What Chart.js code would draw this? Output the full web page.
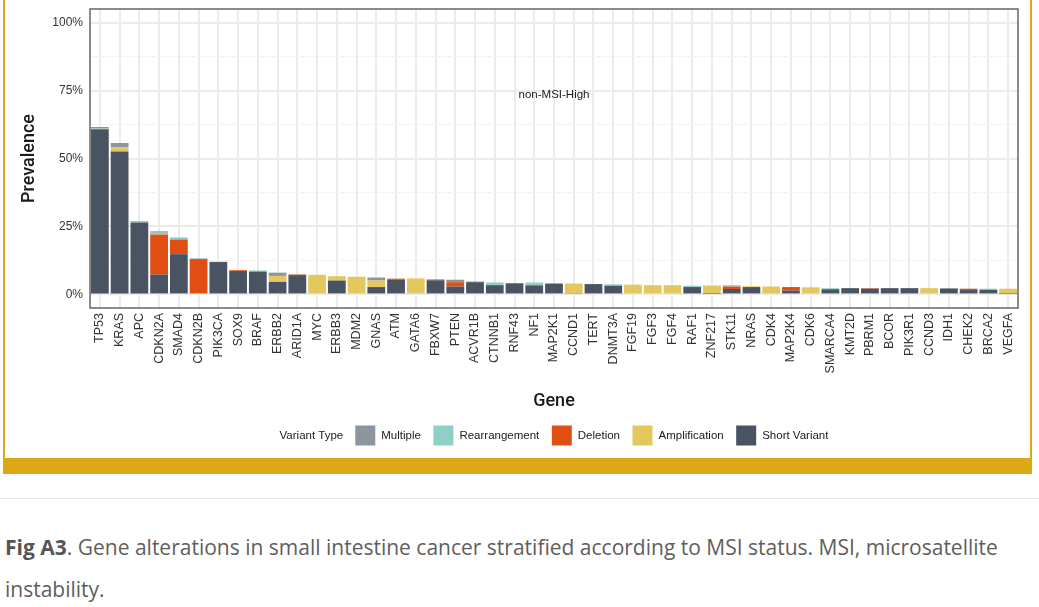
<!DOCTYPE html>
<html>
<head>
<meta charset="utf-8">
<script src="https://cdn.jsdelivr.net/npm/chart.js@4.4.1/dist/chart.umd.min.js"></script>
<style>
  html, body { margin: 0; padding: 0; background: #fff; }
  body { width: 1039px; height: 607px; position: relative; overflow: hidden; }
  #frame { position: absolute; left: 3px; top: -6px; width: 1029px; height: 480px; box-sizing: border-box;
           border: 2px solid #dca816; border-bottom-width: 16px; }
  #wrap { position: absolute; left: 0; top: 0; width: 1039px; height: 457px; }
  #rule { position: absolute; left: 0; top: 498px; width: 1039px; height: 1px; background: #e6e6e6; }
  #caption { position: absolute; left: 5px; top: 526px; font-family: 'Open Sans', sans-serif; font-size: 21px;
             line-height: 42px; color: #5e5e5e; white-space: nowrap; }
  #caption b { color: #555; }
</style>
</head>
<body>
<div id="frame"></div>
<div id="wrap"><canvas id="chart"></canvas></div>
<div id="rule"></div>
<div id="caption"><b>Fig A3</b>. Gene alterations in small intestine cancer stratified according to MSI status. MSI, microsatellite<br>instability.</div>

<script>
var genes = ['TP53', 'KRAS', 'APC', 'CDKN2A', 'SMAD4', 'CDKN2B', 'PIK3CA', 'SOX9', 'BRAF', 'ERBB2',
    'ARID1A', 'MYC', 'ERBB3', 'MDM2', 'GNAS', 'ATM', 'GATA6', 'FBXW7', 'PTEN', 'ACVR1B',
    'CTNNB1', 'RNF43', 'NF1', 'MAP2K1', 'CCND1', 'TERT', 'DNMT3A', 'FGF19', 'FGF3', 'FGF4',
    'RAF1', 'ZNF217', 'STK11', 'NRAS', 'CDK4', 'MAP2K4', 'CDK6', 'SMARCA4', 'KMT2D', 'PBRM1',
    'BCOR', 'PIK3R1', 'CCND3', 'IDH1', 'CHEK2', 'BRCA2', 'VEGFA'];

// prevalence in %, stacked bottom to top
var shortVariant = [60.5, 52.6, 26.5, 7.3, 14.8, 0, 11.9, 8.6, 8.4, 4.6,
    7.1, 0, 5.1, 0, 2.7, 5.5, 0, 5.2, 2.9, 4.5,
    3.4, 3.9, 3.3, 4.0, 0.3, 3.8, 3.2, 0, 0, 0,
    2.7, 0.2, 2.0, 2.7, 0, 1.4, 0, 1.9, 2.3, 2.1,
    2.3, 2.3, 0, 2.2, 1.6, 1.7, 0.2];
var amplification = [0, 1.6, 0, 0, 0, 0, 0.2, 0, 0, 2.2,
    0, 7.2, 1.6, 6.5, 2.4, 0, 5.9, 0, 0, 0,
    0, 0, 0, 0, 3.7, 0, 0, 3.6, 3.4, 3.4,
    0, 3.1, 0, 0.3, 2.9, 0, 2.6, 0, 0, 0,
    0, 0, 2.3, 0, 0, 0, 1.9];
var deletion = [0.4, 0, 0, 14.7, 5.4, 13.0, 0, 0.3, 0, 0,
    0.2, 0, 0, 0, 0, 0.3, 0, 0.3, 1.6, 0.2,
    0, 0.3, 0.2, 0, 0, 0, 0, 0, 0, 0,
    0, 0, 0.9, 0, 0, 1.3, 0, 0, 0, 0.2,
    0, 0, 0, 0, 0.5, 0, 0];
var rearrangement = [0.2, 0, 0.5, 0.7, 0.8, 0, 0, 0, 0.4, 0,
    0.2, 0, 0, 0, 0, 0, 0, 0, 0, 0,
    1.0, 0, 0.9, 0, 0, 0, 0.5, 0, 0, 0,
    0.5, 0, 0.5, 0, 0, 0, 0, 0.4, 0, 0,
    0, 0, 0, 0, 0, 0.4, 0];
var multiple = [0.5, 1.5, 0, 0.5, 0, 0.2, 0, 0, 0, 1.2,
    0, 0, 0, 0, 1.1, 0, 0, 0, 0.9, 0,
    0, 0, 0, 0, 0, 0, 0, 0, 0, 0,
    0, 0, 0, 0, 0, 0, 0, 0, 0, 0,
    0, 0, 0, 0, 0, 0, 0];

var yTicks = [0, 12.5, 25, 37.5, 50, 62.5, 75, 87.5, 100];

Chart.defaults.font.family = "'Liberation Sans', Arial, sans-serif";
Chart.defaults.color = '#333';

var panelPlugin = {
    id: 'panel',
    afterDatasetsDraw: function(chart) {
        var ctx = chart.ctx, area = chart.chartArea;
        ctx.save();
        ctx.fillStyle = '#1a1a1a';
        ctx.font = "11.5px 'Liberation Sans', Arial, sans-serif";
        ctx.textAlign = 'center';
        ctx.textBaseline = 'middle';
        ctx.fillText('non-MSI-High', (area.left + area.right) / 2, chart.scales.y.getPixelForValue(73.5));
        ctx.restore();
    },
    afterDraw: function(chart) {
        var ctx = chart.ctx, area = chart.chartArea;
        ctx.save();
        ctx.strokeStyle = '#4d4d4d';
        ctx.lineWidth = 1.3;
        ctx.strokeRect(area.left, area.top, area.right - area.left, area.bottom - area.top);

        // legend: title inline, then the keys in reverse stack order
        ctx.font = "11.5px 'Liberation Sans', Arial, sans-serif";
        ctx.textBaseline = 'middle';
        ctx.textAlign = 'left';
        var items = chart.data.datasets.slice().reverse();
        var title = 'Variant Type';
        var box = 20, total = ctx.measureText(title).width + 12;
        items.forEach(function(d, i) {
            total += box + 6 + ctx.measureText(d.label).width + (i < items.length - 1 ? 12.5 : 0);
        });
        var x = (area.left + area.right) / 2 - total / 2, yMid = 435.5;
        ctx.fillStyle = '#1a1a1a';
        ctx.fillText(title, x, yMid);
        x += ctx.measureText(title).width + 12;
        items.forEach(function(d) {
            ctx.fillStyle = d.backgroundColor;
            ctx.fillRect(x, yMid - box / 2, box, box);
            x += box + 6;
            ctx.fillStyle = '#1a1a1a';
            ctx.fillText(d.label, x, yMid);
            x += ctx.measureText(d.label).width + 12.5;
        });
        ctx.restore();
    }
};

new Chart(document.getElementById('chart'), {
    type: 'bar',
    data: {
        labels: genes,
        datasets: [
            { label: 'Short Variant', data: shortVariant, backgroundColor: '#4a5362' },
            { label: 'Amplification', data: amplification, backgroundColor: '#e2c85f' },
            { label: 'Deletion', data: deletion, backgroundColor: '#e04e14' },
            { label: 'Rearrangement', data: rearrangement, backgroundColor: '#8fcfc9' },
            { label: 'Multiple', data: multiple, backgroundColor: '#8d95a0' }
        ]
    },
    options: {
        responsive: true,
        maintainAspectRatio: false,
        animation: false,
        layout: { padding: { top: 9, right: 21, left: 0, bottom: 0 } },
        datasets: { bar: { barPercentage: 0.9, categoryPercentage: 1 } },
        plugins: { legend: { display: false }, tooltip: { enabled: false } },
        scales: {
            x: {
                stacked: true,
                offset: true,
                grid: { offset: false, color: '#ebebeb', lineWidth: 2, drawTicks: false },
                border: { display: false },
                ticks: { autoSkip: false, minRotation: 90, maxRotation: 90, padding: 5, color: '#333', font: { size: 12.5 } },
                title: { display: true, text: 'Gene', color: '#1a1a1a', padding: { top: 0, bottom: 45 },
                         font: { family: 'Roboto', size: 18, weight: 500 } },
                afterFit: function(s) {
                    s.height = 149;
                    s.paddingLeft = 0; s.paddingRight = 0;
                }
            },
            y: {
                stacked: true,
                min: -5,
                max: 105,
                afterBuildTicks: function(s) { s.ticks = yTicks.map(function(v) { return { value: v }; }); },
                grid: {
                    drawTicks: false,
                    color: function(c) { return c.tick && c.tick.value % 25 === 0 ? '#ebebeb' : '#f4f4f4'; },
                    lineWidth: function(c) { return c.tick && c.tick.value % 25 === 0 ? 2 : 1; }
                },
                border: { display: false },
                ticks: {
                    padding: 7, color: '#333', font: { size: 12 },
                    callback: function(v) { return v % 25 === 0 ? v + '%' : ''; }
                },
                title: { display: true, text: 'Prevalence', color: '#1a1a1a', padding: { top: 19, bottom: 0 },
                         font: { family: 'Roboto', size: 18, weight: 500 } },
                afterFit: function(s) {
                    s.width = 90;
                    s.paddingTop = 0; s.paddingBottom = 0;
                }
            }
        }
    },
    plugins: [panelPlugin]
});
</script>
</body>
</html>
